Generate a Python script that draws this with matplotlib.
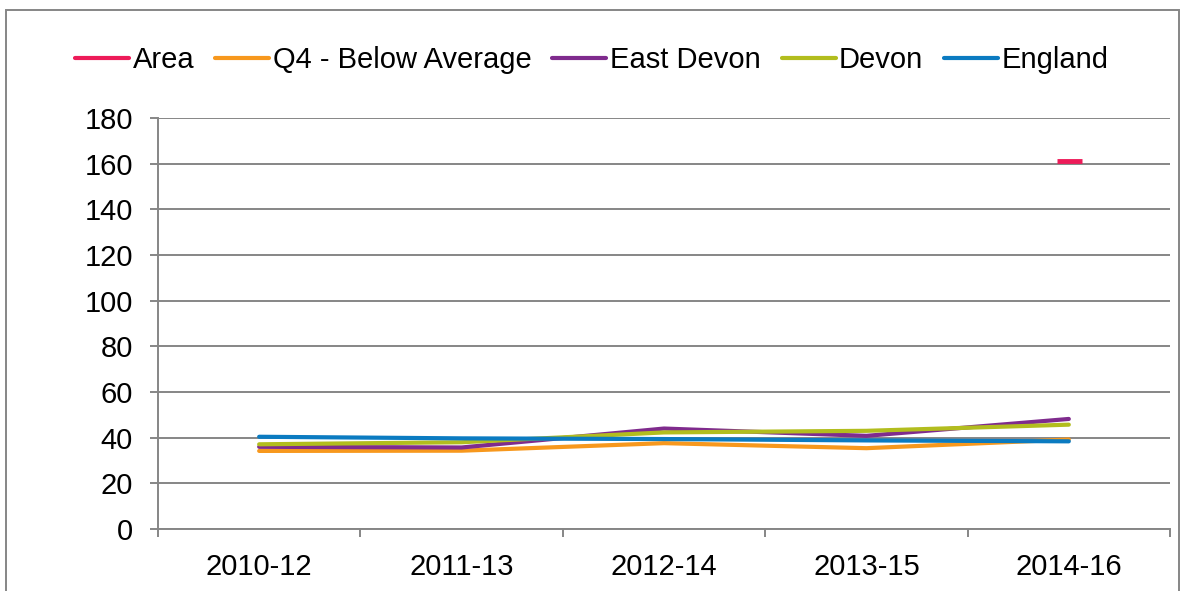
import matplotlib
matplotlib.use("Agg")
import matplotlib.pyplot as plt
from matplotlib.patches import Rectangle
import numpy as np

plt.rcParams['font.family'] = ['Liberation Sans', 'DejaVu Sans']

categories = ["2010-12", "2011-13", "2012-14", "2013-15", "2014-16"]
area = [np.nan, np.nan, np.nan, np.nan, 161.3]
q4_below = [34.2, 34.3, 37.6, 35.4, 39.2]
east_devon = [36.0, 35.7, 44.0, 40.8, 48.2]
devon = [37.1, 38.0, 42.3, 43.0, 45.7]
england = [40.4, 39.7, 39.4, 38.8, 38.4]

series = [
    ("Area", area, "#ED1B59"),
    ("Q4 - Below Average", q4_below, "#F7981D"),
    ("East Devon", east_devon, "#7F2B8D"),
    ("Devon", devon, "#B2BD1E"),
    ("England", england, "#0B7BC1"),
]

FS = 21

fig = plt.figure(figsize=(11.84, 5.91), dpi=100)
ax = fig.add_axes([0.1334, 0.1049, 0.9882 - 0.1334, 0.8003 - 0.1049])

x = np.arange(len(categories))
handles = []
for name, vals, col in series:
    if name == "Area":
        ax.plot(x, vals, color=col, lw=3, marker='_', markersize=18, markeredgewidth=3.5, zorder=3)
        h, = ax.plot([], [], color=col, lw=3, solid_capstyle='round')
    else:
        ax.plot(x, vals, color=col, lw=3, solid_capstyle='round', solid_joinstyle='round', zorder=3)
        h, = ax.plot([], [], color=col, lw=3, solid_capstyle='round')
    handles.append((h, name))

grid_col = "#868686"
ax.set_xlim(-0.5, 4.5)
ax.set_ylim(0, 180)
ax.set_yticks(np.arange(0, 181, 20))
ax.yaxis.grid(True, color=grid_col, lw=1.4)
ax.set_axisbelow(True)
for s in ["top", "right"]:
    ax.spines[s].set_visible(False)
for s in ["left", "bottom"]:
    ax.spines[s].set_color(grid_col)
    ax.spines[s].set_linewidth(1.4)

ax.set_xticks(np.arange(-0.5, 4.6, 1.0))
ax.set_xticklabels([])
ax.set_xticks(x, minor=True)
ax.set_xticklabels(categories, minor=True)
ax.tick_params(axis='x', which='major', length=6, width=1.4, color=grid_col, direction='out')
ax.tick_params(axis='x', which='minor', length=0, pad=17, labelsize=FS)
ax.tick_params(axis='y', length=6, width=1.4, color=grid_col, pad=12, labelsize=FS)

fig.legend([h for h, _ in handles], [n for _, n in handles], loc='center',
           bbox_to_anchor=(0.5, 1 - 60 / 591), ncol=5, frameon=False, fontsize=FS,
           handlelength=1.85, handletextpad=0.12, columnspacing=0.72, borderaxespad=0)

fig.add_artist(Rectangle((6 / 1184, -0.01), (1179 - 6) / 1184, 1 - 10 / 591 + 0.01,
                         transform=fig.transFigure, fill=False, edgecolor=grid_col, lw=1.4))

fig.savefig("out.png", dpi=100)
